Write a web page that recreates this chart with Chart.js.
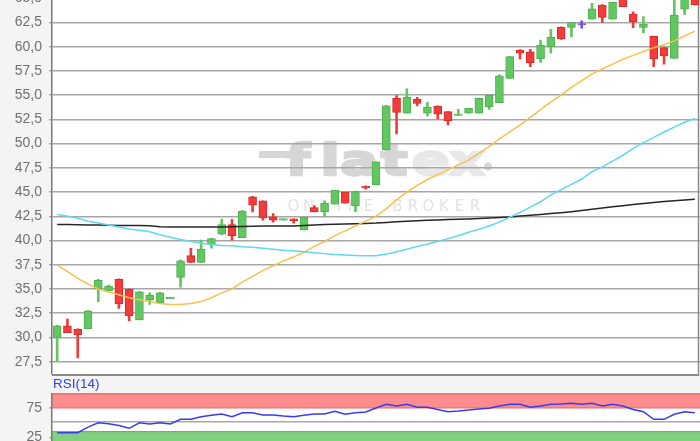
<!DOCTYPE html>
<html><head><meta charset="utf-8">
<script src="https://cdn.jsdelivr.net/npm/chart.js@4.4.1/dist/chart.umd.min.js"></script>
<style>
html,body{margin:0;padding:0;width:700px;height:441px;overflow:hidden;background:#f4f4f4;position:relative;}
#c1{position:absolute;left:0;top:-20px;width:700px;height:420px;}
#c2{position:absolute;left:0;top:370px;width:700px;height:100px;}
#rsiTitle{position:absolute;left:53px;top:377px;font:13.5px "Liberation Sans",Arial,sans-serif;color:#3040ee;line-height:14px;}
</style></head>
<body>
<canvas id="c1" width="700" height="420"></canvas>
<canvas id="c2" width="700" height="100"></canvas>
<div id="rsiTitle">RSI(14)</div>
<script>
const categories = [1,2,3,4,5,6,7,8,9,10,11,12,13,14,15,16,17,18,19,20,21,22,23,24,25,26,27,28,29,30,31,32,33,34,35,36,37,38,39,40,41,42,43,44,45,46,47,48,49,50,51,52,53,54,55,56,57,58,59,60,61,62,63];
const open  = [30.0,31.2,30.85,30.9,35.0,34.8,36.0,35.0,31.8,33.9,33.6,34.0,36.2,38.45,37.75,39.6,40.65,41.65,40.3,44.5,44.1,42.45,42.1,42.25,41.1,43.4,42.97,43.75,45.0,43.6,45.6,45.73,49.35,54.67,53.13,54.57,53.13,53.88,53.3,52.9,53.13,53.13,53.8,54.22,56.74,59.66,59.48,58.73,60.0,62.0,62.0,62.24,62.83,64.3,62.83,65.2,63.37,62.0,61.1,59.9,58.8,63.86,65.4];
const high  = [31.25,31.9,30.9,32.8,36.0,35.4,36.05,35.0,34.75,34.6,34.65,34.15,38.0,39.2,40.05,40.25,42.2,42.2,43.1,44.55,44.1,42.77,42.2,42.25,42.4,43.6,44.1,45.2,45.0,45.1,45.65,48.15,53.95,54.95,55.65,54.78,54.26,53.9,53.3,53.55,53.64,54.7,55.0,57.1,59.0,59.7,59.73,60.69,61.8,62.05,62.5,62.68,64.48,64.35,64.6,65.3,63.6,63.1,61.1,59.9,65.5,65.8,65.5];
const low   = [27.5,30.5,27.9,30.9,33.7,34.8,33.0,31.7,31.8,33.4,33.6,34.0,35.2,37.75,37.75,39.2,40.6,40.05,40.3,42.95,42.1,41.9,42.1,41.8,41.1,42.95,42.5,43.75,43.85,42.97,45.3,45.73,49.35,51.0,53.13,53.9,52.85,52.54,51.92,52.9,53.13,53.13,53.54,54.22,56.74,58.73,57.94,58.39,59.32,60.75,61.03,61.9,62.83,62.5,62.83,64.13,61.96,61.44,57.94,58.2,58.8,63.34,64.3];
const close = [31.2,30.5,30.25,32.7,35.9,35.3,33.45,32.25,34.7,34.35,34.6,34.15,37.9,37.75,39.1,40.2,41.65,40.5,43.05,43.65,42.35,42.1,42.2,42.05,42.4,42.95,43.84,45.2,43.85,45.05,45.45,48.13,53.9,53.23,54.78,54.15,53.75,53.05,52.36,53.0,53.64,54.67,55.0,57.0,58.97,59.32,58.35,60.18,60.97,60.8,62.48,62.24,63.9,63.03,64.58,64.13,62.58,62.34,58.75,59.04,63.27,65.6,64.3];
const ma20  = [37.5,36.8,36.1,35.5,35.0,34.7,34.4,34.1,33.9,33.7,33.5,33.4,33.4,33.5,33.7,34.1,34.6,35.0,35.7,36.3,36.9,37.4,37.9,38.3,38.8,39.4,39.9,40.5,41.0,41.5,42.0,42.5,43.3,44.2,45.0,45.7,46.3,46.8,47.3,47.8,48.3,49.0,49.7,50.5,51.2,51.9,52.7,53.5,54.3,55.0,55.8,56.5,57.2,57.7,58.2,58.7,59.1,59.5,59.9,60.2,60.6,61.1,61.6];
const ma50  = [42.7,42.5,42.3,42.0,41.8,41.6,41.4,41.2,41.05,40.9,40.6,40.35,40.1,39.9,39.75,39.6,39.5,39.45,39.35,39.3,39.2,39.1,39.0,38.95,38.85,38.75,38.65,38.55,38.5,38.45,38.43,38.43,38.6,38.85,39.1,39.4,39.65,39.9,40.2,40.5,40.85,41.15,41.5,41.9,42.4,42.9,43.45,44.0,44.7,45.25,45.8,46.35,47.1,47.6,48.2,48.8,49.5,50.1,50.65,51.2,51.7,52.2,52.6];
const ma200 = [41.65,41.65,41.62,41.6,41.6,41.58,41.56,41.55,41.55,41.52,41.42,41.4,41.4,41.4,41.4,41.4,41.4,41.42,41.45,41.48,41.5,41.5,41.5,41.5,41.55,41.6,41.65,41.67,41.7,41.73,41.76,41.8,41.87,41.93,42.0,42.05,42.1,42.13,42.17,42.2,42.23,42.27,42.32,42.38,42.44,42.52,42.6,42.68,42.78,42.87,42.98,43.1,43.22,43.35,43.48,43.6,43.72,43.82,43.92,44.02,44.1,44.18,44.25];
const rsi14 = [33,33,33,42.5,50,48.2,45.3,40.6,50,47.9,50,47.9,55.8,55.8,60.3,62.6,64.8,60.3,67,67,63.1,63.1,61.4,60.3,62.6,64.8,64.8,69.4,64.3,67,68.2,75,81.3,78.4,81.3,76.2,76.2,72.5,68.7,69.9,71.6,73.3,74.5,78.4,81.3,81.3,76.2,78.4,81.3,81.8,83,81.3,83,78.4,81.3,78.4,72.5,68.7,55.8,55.8,64.3,68.7,67];
const priceTicks = [27.5,30,32.5,35,37.5,40,42.5,45,47.5,50,52.5,55,57.5,60,62.5,65];
const rsiTicks = [25,75];
const rsiBands = {overbought: 75, oversold: 34.8, mid: 50};

const GREEN='#62c662', GREEN_E='#4fb04f', RED='#f23c3c', RED_E='#d82c2c', PURPLE='#7650e6';
const fills = close.map((c,i)=> c>open[i]?GREEN:(c<open[i]?RED:PURPLE));
const edges = close.map((c,i)=> c>open[i]?GREEN_E:(c<open[i]?RED_E:PURPLE));
const bodies = open.map((o,i)=>[o, close[i]]);
const wicks = low.map((l,i)=>[l, high[i]]);

const FONT = '"Liberation Sans", Arial, sans-serif';
const fmt = v => Number(v).toFixed(1).replace('.', ',');

const mainDecor = {
  id:'mainDecor',
  beforeDraw(chart){
    const {ctx, chartArea:a} = chart;
    ctx.save();
    ctx.fillStyle='#ffffff';
    ctx.fillRect(a.left, a.top, a.right-a.left, a.bottom-a.top);
    // watermark
    ctx.textAlign='center';
    ctx.textBaseline='alphabetic';
    ctx.font='bold 43px "DejaVu Sans", sans-serif';
    ctx.lineJoin='round';
    const letters=[['f',298,'#d6d6d6'],['l',330,'#d6d6d6'],['a',359,'#d6d6d6'],['t',394,'#d6d6d6'],['e',431,'#e8e8e8'],['x',467,'#e8e8e8']];
    for(const [ch,cx,col] of letters){
      ctx.save(); ctx.translate(cx,195); ctx.scale(1.3,1);
      ctx.fillStyle=col; ctx.strokeStyle=col; ctx.lineWidth=2.5;
      ctx.fillText(ch,0,0); ctx.strokeText(ch,0,0); ctx.restore();
    }
    ctx.fillStyle='#d6d6d6';
    ctx.fillRect(259,171,34,7);
    ctx.beginPath(); ctx.arc(488,186.5,4,0,Math.PI*2); ctx.fill();
    ctx.font='15px "DejaVu Sans", sans-serif';
    ctx.fillStyle='#e2e2e2';
    const w1='ONLINE', w2='BROKER';
    for(let i=0;i<w1.length;i++) ctx.fillText(w1[i], 293.5+i*15, 231);
    for(let i=0;i<w2.length;i++) ctx.fillText(w2[i], 397.5+i*15.5, 231);
    ctx.restore();
  },
  beforeDatasetsDraw(chart){
    const {ctx, chartArea:a} = chart;
    ctx.save();
    ctx.strokeStyle='#8a8a8a';
    ctx.lineWidth=2;
    ctx.beginPath(); ctx.moveTo(a.left, a.bottom+1); ctx.lineTo(698.5, a.bottom+1); ctx.stroke();
    ctx.lineWidth=1.5;
    ctx.beginPath(); ctx.moveTo(698.5, a.top); ctx.lineTo(698.5, a.bottom+2); ctx.stroke();
    ctx.restore();
  }
};

new Chart(document.getElementById('c1'), {
  type:'bar',
  data:{
    labels: categories,
    datasets:[
      {type:'bar', data:wicks, backgroundColor:fills, borderWidth:0, barThickness:2, grouped:false, order:3},
      {type:'bar', data:bodies, backgroundColor:fills, borderColor:edges, borderWidth:1, borderSkipped:false, barThickness:8, grouped:false, minBarLength:1.5, order:2},
      {type:'line', data:ma200, borderColor:'#262626', borderWidth:1.5, pointRadius:0, fill:false, tension:0, order:1},
      {type:'line', data:ma50, borderColor:'#5ad8f5', borderWidth:1.5, pointRadius:0, fill:false, tension:0, order:0},
      {type:'line', data:ma20, borderColor:'#f8c04c', borderWidth:1.5, pointRadius:0, fill:false, tension:0, order:0}
    ]
  },
  options:{
    responsive:false, maintainAspectRatio:false, animation:false, devicePixelRatio:1, events:[],
    layout:{padding:{top:18.24, bottom:26, left:0, right:0}},
    plugins:{legend:{display:false}, tooltip:{enabled:false}},
    scales:{
      x:{type:'category', display:false, offset:true},
      y:{
        min:26.23, max:65,
        afterBuildTicks(s){ s.ticks = priceTicks.map(v=>({value:v})); },
        afterFit(s){ s.width = 52; },
        ticks:{callback:fmt, color:'#707070', font:{family:FONT, size:14}, padding:7, autoSkip:false},
        grid:{color:'#a6a6a6', lineWidth:1.5, tickLength:3, drawTicks:true},
        border:{display:true, color:'#7a7a7a', width:1.5}
      }
    }
  },
  plugins:[mainDecor]
});

const rsiDecor = {
  id:'rsiDecor',
  beforeDraw(chart){
    const {ctx, chartArea:a, scales:{y}} = chart;
    ctx.save();
    ctx.fillStyle='#ffffff';
    ctx.fillRect(a.left, a.top, a.right-a.left, a.bottom-a.top);
    const yOB=y.getPixelForValue(rsiBands.overbought), yOS=y.getPixelForValue(rsiBands.oversold), yMid=y.getPixelForValue(rsiBands.mid);
    ctx.fillStyle='#ff8c8c';
    ctx.fillRect(a.left, a.top, a.right-a.left, yOB-a.top);
    ctx.strokeStyle='#e06a6a'; ctx.lineWidth=1.2;
    ctx.beginPath(); ctx.moveTo(a.left,a.top+0.6); ctx.lineTo(a.right,a.top+0.6); ctx.stroke();
    ctx.beginPath(); ctx.moveTo(a.left,yOB); ctx.lineTo(a.right,yOB); ctx.stroke();
    ctx.fillStyle='#80d080';
    ctx.fillRect(a.left, yOS, a.right-a.left, a.bottom-yOS);
    ctx.strokeStyle='#5fba5f';
    ctx.beginPath(); ctx.moveTo(a.left,yOS); ctx.lineTo(a.right,yOS); ctx.stroke();
    ctx.strokeStyle='#a9a9a9'; ctx.lineWidth=1.5;
    ctx.beginPath(); ctx.moveTo(a.left,yMid-1); ctx.lineTo(a.right,yMid-1); ctx.stroke();
    ctx.restore();
  }
};

new Chart(document.getElementById('c2'), {
  type:'line',
  data:{labels:categories, datasets:[{data:rsi14, borderColor:'#3a3af0', borderWidth:1.5, pointRadius:0, fill:false, tension:0}]},
  options:{
    responsive:false, maintainAspectRatio:false, animation:false, devicePixelRatio:1, events:[],
    layout:{padding:{top:23.25, bottom:17.75, left:0, right:0}},
    plugins:{legend:{display:false}, tooltip:{enabled:false}},
    scales:{
      x:{type:'category', display:false, offset:true},
      y:{
        min:0, max:100,
        afterBuildTicks(s){ s.ticks = rsiTicks.map(v=>({value:v})); },
        afterFit(s){ s.width = 52; },
        ticks:{color:'#707070', font:{family:FONT, size:14}, padding:7, autoSkip:false},
        grid:{drawOnChartArea:false, color:'#a9a9a9', lineWidth:1.5, tickLength:3},
        border:{display:true, color:'#7a7a7a', width:1.5}
      }
    }
  },
  plugins:[rsiDecor]
});
</script>
</body></html>
